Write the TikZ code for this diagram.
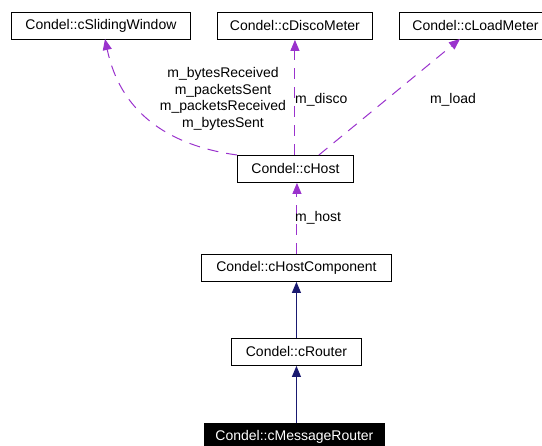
\documentclass[tikz,border=0pt]{standalone}
\usepackage{fontspec}
\setmainfont{Liberation Sans}
\usetikzlibrary{arrows.meta}
\definecolor{assoc}{HTML}{9A32CD}
\definecolor{inherit}{HTML}{191970}
\tikzset{
  cls/.style={draw=black, line width=0.9pt, fill=white, minimum height=27pt,
    inner sep=0pt, font=\fontsize{14}{16}\selectfont, anchor=north west},
  current/.style={cls, fill=black, text=white},
  uses/.style={draw=assoc, line width=1pt, dash pattern=on 11pt off 8pt,
    -{Triangle[length=11pt,width=9pt,fill=assoc]}},
  derives/.style={draw=inherit, line width=1pt,
    -{Triangle[length=11pt,width=9pt,fill=inherit]}},
  lbl/.style={font=\fontsize{14}{16.5}\selectfont, inner sep=0pt, align=center}
}
\begin{document}
\begin{tikzpicture}[x=1pt,y=1pt]
\useasboundingbox (0,0) rectangle (542,-446);
\clip (0,0) rectangle (542,-446);

% class boxes
\node[cls, minimum width=179pt] (slide) at (11,-12) {Condel::cSlidingWindow};
\node[cls, minimum width=155pt] (disco) at (217,-12) {Condel::cDiscoMeter};
\node[cls, minimum width=152pt] (load)  at (399,-12) {Condel::cLoadMeter};
\node[cls, minimum width=116pt] (host)  at (237,-155) {Condel::cHost};
\node[cls, minimum width=190pt] (hcomp) at (201,-254) {Condel::cHostComponent};
\node[cls, minimum width=130pt] (router) at (231,-338) {Condel::cRouter};
\node[current, minimum width=180pt] (mrouter) at (204,-423) {Condel::cMessageRouter};

% usage relations
\draw[uses] (host.north west) .. controls (165,-145) and (120,-110) .. (105,-39);
\draw[uses] ([xshift=-0.5pt]host.north) -- (disco.south);
\draw[uses] ([xshift=-35pt]host.north east) -- (460,-39);
\draw[uses] ([xshift=0.5pt]hcomp.north) -- ([xshift=0.5pt]hcomp.north |- host.south);

% inheritance
\draw[derives] (router.north) -- (router.north |- hcomp.south);
\draw[derives] (mrouter.north -| router.north) -- (router.south);

% labels
\node[lbl] (lbytes) at (223,-99) {m\_bytesReceived\\m\_packetsSent\\m\_packetsReceived\\m\_bytesSent};
\node[lbl, anchor=west] (ldisco) at (295,-100) {m\_disco};
\node[lbl] (lload) at (453,-100) {m\_load};
\node[lbl, anchor=west] (lhost) at (295,-218) {m\_host};
\end{tikzpicture}
\end{document}
